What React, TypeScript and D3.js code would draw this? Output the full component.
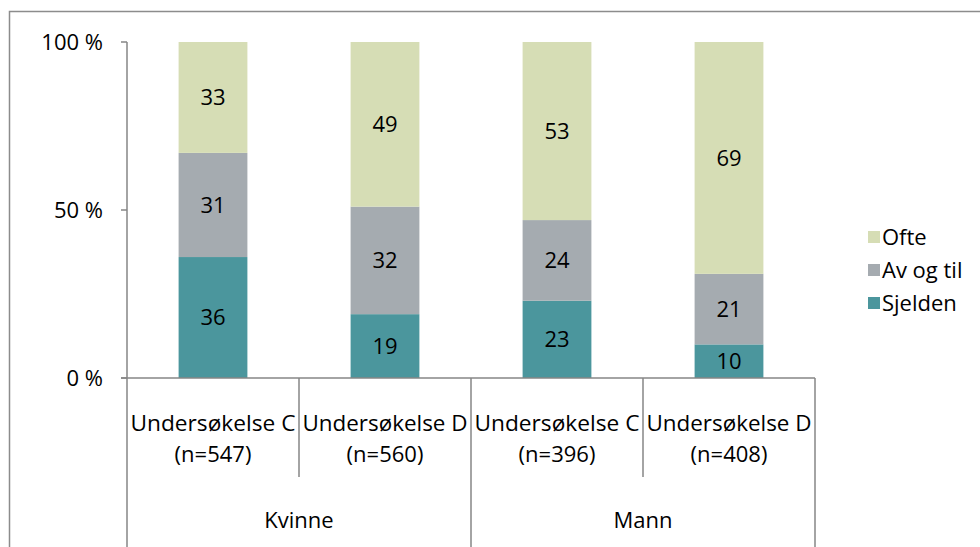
import React from 'react';
import * as d3 from 'd3';

const subLabels = ['Undersøkelse C', 'Undersøkelse D', 'Undersøkelse C', 'Undersøkelse D'];
const nLabels = ['(n=547)', '(n=560)', '(n=396)', '(n=408)'];
const groups = ['Kvinne', 'Mann'];
const seriesNames = ['Sjelden', 'Av og til', 'Ofte'];
const sjelden = [36, 19, 23, 10];
const avOgTil = [31, 32, 24, 21];
const ofte = [33, 49, 53, 69];
const yTicks = [0, 50, 100];

const colors = ['#4b969d', '#a5abb0', '#d6ddb5'];
const font = '"Open Sans", sans-serif';
const fs = 22;

const W = 980;
const H = 547;
const left = 127;
const right = 815;
const top = 42;
const bottom = 378;

export default function App() {
  const idx = subLabels.map((_, i) => String(i));
  const x = d3.scaleBand().domain(idx).range([left, right]).paddingInner(0.6).paddingOuter(0.3);
  const y = d3.scaleLinear().domain([0, 100]).range([bottom, top]);
  const rows = idx.map((k, i) => ({ k, Sjelden: sjelden[i], 'Av og til': avOgTil[i], Ofte: ofte[i] }));
  const stack = d3.stack<any>().keys(seriesNames)(rows);
  const step = (right - left) / subLabels.length;

  return (
    <svg width={W} height={H} style={{ position: 'absolute', left: 0, top: 0, fontFamily: font }}>
      <rect x={0} y={0} width={W} height={H} fill="#fff" />
      <rect x={9.5} y={11.5} width={W + 10} height={H + 10} fill="none" stroke="#8c8c8c" strokeWidth={1.5} />
      {stack.map((s, si) => (
        <g key={si}>
          {s.map((d, i) => (
            <g key={i}>
              <rect x={x(String(i))} y={y(d[1])} width={x.bandwidth()} height={y(d[0]) - y(d[1])} fill={colors[si]} />
              <text x={x(String(i))! + x.bandwidth() / 2} y={(y(d[0]) + y(d[1])) / 2} dy="0.35em"
                textAnchor="middle" fontSize={fs} fill="#000">{d[1] - d[0]}</text>
            </g>
          ))}
        </g>
      ))}
      {/* y axis */}
      <line x1={left} x2={left} y1={top} y2={bottom} stroke="#868686" strokeWidth={1.5} />
      {yTicks.map(t => (
        <g key={t}>
          <line x1={left - 6} x2={left} y1={y(t)} y2={y(t)} stroke="#868686" strokeWidth={1.5} />
          <text x={103} y={y(t)} dy="0.35em" textAnchor="end" fontSize={fs}>{t} %</text>
        </g>
      ))}
      {/* x axis */}
      <line x1={left - 6} x2={right} y1={bottom} y2={bottom} stroke="#868686" strokeWidth={1.5} />
      {d3.range(subLabels.length + 1).map(i => {
        const xx = left + i * step;
        const isGroup = i % 2 === 0;
        return <line key={i} x1={xx} x2={xx} y1={bottom} y2={isGroup ? H : 477} stroke="#868686" strokeWidth={1.5} />;
      })}
      {subLabels.map((l, i) => (
        <g key={i}>
          <text x={left + (i + 0.5) * step} y={431} textAnchor="middle" fontSize={fs} textLength={165} lengthAdjust="spacingAndGlyphs">{l}</text>
          <text x={left + (i + 0.5) * step} y={462} textAnchor="middle" fontSize={fs}>{nLabels[i]}</text>
        </g>
      ))}
      {groups.map((g, i) => (
        <text key={g} x={left + (i + 0.5) * step * 2} y={528} textAnchor="middle" fontSize={fs}>{g}</text>
      ))}
      {/* legend */}
      {seriesNames.slice().reverse().map((n, i) => (
        <g key={n} transform={`translate(868, ${237 + i * 33})`}>
          <rect x={0} y={-6} width={12} height={12} fill={colors[seriesNames.length - 1 - i]} />
          <text x={14} y={0} dy="0.35em" fontSize={fs}>{n}</text>
        </g>
      ))}
    </svg>
  );
}
